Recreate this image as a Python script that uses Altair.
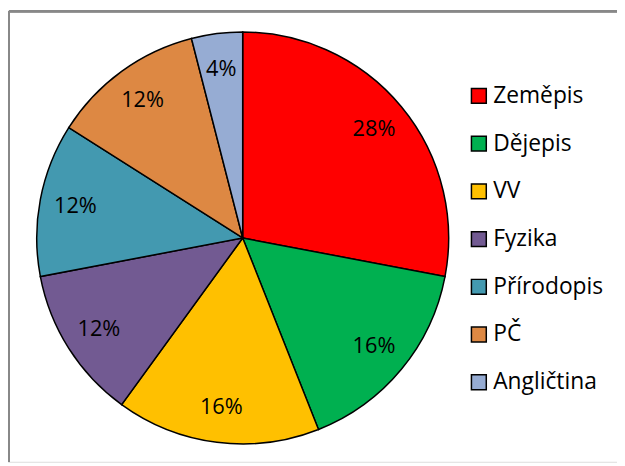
import altair as alt
import pandas as pd

subjects = ["Zeměpis", "Dějepis", "VV", "Fyzika", "Přírodopis", "PČ", "Angličtina"]
values = [28, 16, 16, 12, 12, 12, 4]
labels = ["28%", "16%", "16%", "12%", "12%", "12%", "4%"]
colors = ["#FF0000", "#00B050", "#FFC000", "#725A92", "#4399B0", "#DD8843", "#96ACD3"]

df = pd.DataFrame({"subject": subjects, "value": values, "label": labels,
                   "idx": list(range(len(subjects)))})

FONT = "Open Sans"

base = alt.Chart(df).encode(
    theta=alt.Theta("value:Q", stack=True),
    order=alt.Order("idx:Q"),
)

pie = base.mark_arc(outerRadius=208, stroke="black", strokeWidth=1.5).encode(
    x=alt.value(237), y=alt.value(230),
    color=alt.Color(
        "subject:N",
        scale=alt.Scale(domain=subjects, range=colors),
        legend=alt.Legend(
            title=None, orient="none", legendX=464, legendY=75,
            symbolType="square", symbolSize=225, symbolStrokeColor="black",
            symbolStrokeWidth=1.5, labelFont=FONT, labelFontSize=23,
            labelColor="black", rowPadding=24.2, labelOffset=3, labelLimit=300,
        ),
        sort=subjects,
    ),
)

text = base.mark_text(radius=172, font=FONT, fontSize=22, color="black").encode(
    x=alt.value(237), y=alt.value(230),
    text="label:N",
)

frame_top = alt.Chart(df).mark_rule(color="#888888", strokeWidth=2).encode(
    x=alt.value(1), x2=alt.value(615), y=alt.value(1)
)
frame_left = alt.Chart(df).mark_rule(color="#888888", strokeWidth=2).encode(
    x=alt.value(1), y=alt.value(1), y2=alt.value(456)
)

chart = alt.layer(pie, text, frame_top, frame_left).properties(
    width=615, height=456, padding=0, autosize=alt.AutoSizeParams(type="none"),
).configure_view(stroke=None).configure(background="white")

chart.save("out.html", embed_options={"renderer": "svg", "actions": False})
